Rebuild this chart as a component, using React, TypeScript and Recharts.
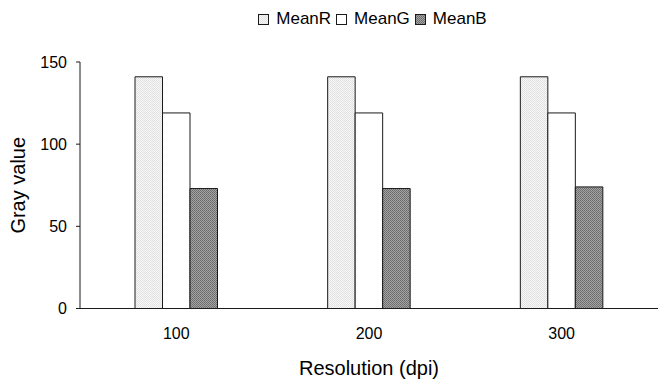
import React from 'react';
import { BarChart, Bar, XAxis, YAxis } from 'recharts';

// Mean gray values per scan resolution
const resolutions = ['100', '200', '300'];
const meanR = [141, 141, 141];
const meanG = [119, 119, 119];
const meanB = [73, 73, 74];
const yTicks = [0, 50, 100, 150];

const data = resolutions.map((r, i) => ({
  resolution: r,
  MeanR: meanR[i],
  MeanG: meanG[i],
  MeanB: meanB[i],
}));

const FONT = '"Liberation Sans", Arial, sans-serif';
const STROKE = '#1a1a1a';

const SERIES = [
  { key: 'MeanR', fill: 'url(#dotsLight)' },
  { key: 'MeanG', fill: '#ffffff' },
  { key: 'MeanB', fill: 'url(#dotsDark)' },
];

function Patterns() {
  return (
    <svg width={0} height={0} style={{ position: 'absolute' }}>
      <defs>
        <pattern id="dotsLight" width={2} height={2} patternUnits="userSpaceOnUse">
          <rect width={2} height={2} fill="#f7f7f7" />
          <rect width={1} height={1} fill="#dedede" />
          <rect x={1} y={1} width={1} height={1} fill="#e4e4e4" />
        </pattern>
        <pattern id="dotsDark" width={2} height={2} patternUnits="userSpaceOnUse">
          <rect width={2} height={2} fill="#a2a2a2" />
          <rect width={1} height={1} fill="#6c6c6c" />
          <rect x={1} y={1} width={1} height={1} fill="#747474" />
        </pattern>
      </defs>
    </svg>
  );
}

function LegendBox() {
  return (
    <div
      style={{
        position: 'absolute',
        top: 9,
        left: 86,
        width: 578,
        display: 'flex',
        justifyContent: 'center',
        fontFamily: FONT,
        fontSize: 17,
        color: '#000',
      }}
    >
      {SERIES.map((s) => (
        <div key={s.key} style={{ display: 'flex', alignItems: 'center', marginRight: 5 }}>
          <svg width={11} height={11} style={{ marginRight: 7 }}>
            <rect x={0.5} y={0.5} width={10} height={10} fill={s.fill} stroke={STROKE} strokeWidth={1} />
          </svg>
          <span>{s.key}</span>
        </div>
      ))}
    </div>
  );
}

export default function App() {
  return (
    <div style={{ position: 'absolute', top: 0, left: 0, width: 658, height: 379, background: '#fff' }}>
      <Patterns />
      <LegendBox />
      <BarChart
        width={658}
        height={379}
        data={data}
        margin={{ top: 62, right: 0, bottom: 0, left: 0 }}
        barGap={0}
        barSize={27.5}
      >
        <XAxis
          dataKey="resolution"
          height={70.5}
          tickLine={false}
          tickSize={0}
          tickMargin={19}
          axisLine={{ stroke: STROKE, strokeWidth: 1 }}
          tick={{ fill: '#000', fontSize: 16, fontFamily: FONT }}
          label={({ viewBox }: any) => (
            <text
              x={viewBox.x + viewBox.width / 2}
              y={375}
              textAnchor="middle"
              fontSize={20}
              fontFamily={FONT}
              fill="#000"
            >
              Resolution (dpi)
            </text>
          )}
        />
        <YAxis
          width={80}
          domain={[0, 150]}
          ticks={yTicks}
          tickSize={4}
          tickMargin={9}
          axisLine={{ stroke: STROKE, strokeWidth: 1 }}
          tickLine={{ stroke: STROKE, strokeWidth: 1 }}
          tick={{ fill: '#000', fontSize: 16, fontFamily: FONT }}
          label={({ viewBox }: any) => {
            const cy = viewBox.y + viewBox.height / 2;
            return (
              <text
                x={25}
                y={cy}
                transform={`rotate(-90, 25, ${cy})`}
                textAnchor="middle"
                fontSize={20}
                fontFamily={FONT}
                fill="#000"
              >
                Gray value
              </text>
            );
          }}
        />
        {SERIES.map((s) => (
          <Bar
            key={s.key}
            dataKey={s.key}
            fill={s.fill}
            stroke={STROKE}
            strokeWidth={1}
            isAnimationActive={false}
          />
        ))}
      </BarChart>
    </div>
  );
}
